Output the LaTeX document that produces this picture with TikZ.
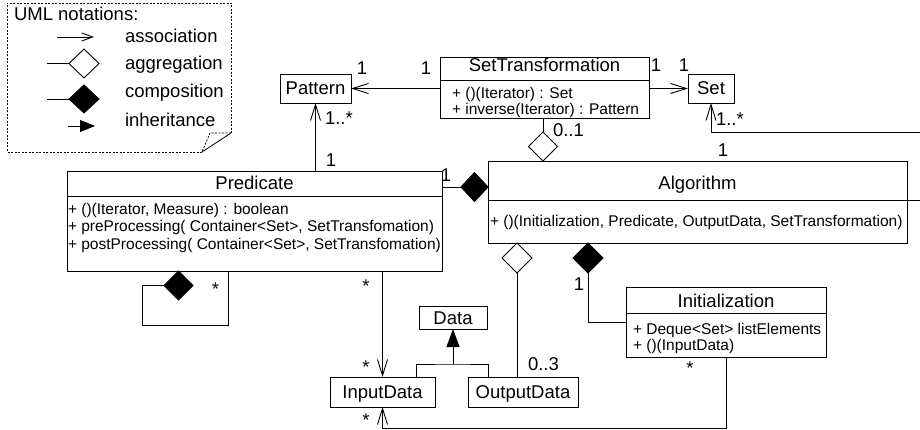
\documentclass[tikz,border=0pt]{standalone}
\usepackage{fontspec}
\setmainfont{Liberation Sans}
\usetikzlibrary{arrows.meta,shapes.geometric}
\begin{document}
\begin{tikzpicture}[x=1pt,y=-1pt,
  every node/.style={inner sep=0pt, outer sep=0pt},
  line width=0.9pt,
  cls/.style={draw, rectangle, line width=0.9pt},
  big/.style={font=\fontsize{18.5}{22}\selectfont},
  small/.style={font=\fontsize{15.5}{17}\selectfont},
  boxtxt/.style={big, text height=13pt, text depth=0pt},
  mth/.style={small, anchor=base west},
  ttl/.style={big, anchor=base},
  mult/.style={big, anchor=base},
  multw/.style={big, anchor=base west},
  assoc/.style={-{Straight Barb[length=16pt,width=10pt]}},
  inh/.style={-{Triangle[length=18pt,width=13pt]}},
  comp/.style={draw, diamond, fill=black, inner sep=0pt},
  aggr/.style={draw, diamond, fill=white, inner sep=0pt},
  note/.style={dash pattern=on 2pt off 1.5pt, line width=0.8pt}
]
\useasboundingbox (0,0) rectangle (920,430);
\clip (0,0) rectangle (920,430);

% ---------- legend ----------
\draw[note] (202,152) -- (7,152) -- (7,3) -- (231,3) -- (231,133);
\draw[line width=0.8pt] (202,152) -- (231,133);
\draw[note] (231,133) -- (210,133) -- (202,152);
\node[big, anchor=base west] (lgt) at (14,21) {UML notations:};
\node[big, anchor=base west] (la) at (125,43) {association};
\node[big, anchor=base west] (lg) at (125,70) {aggregation};
\node[big, anchor=base west] (lc) at (125,98) {composition};
\node[big, anchor=base west] (li) at (125,127) {inheritance};
\coordinate (la1) at (57,37);
\coordinate (la2) at (94,37);
\draw[-{Straight Barb[length=11pt,width=8pt]}] (la1) -- (la2);
\node[aggr, minimum width=30pt, minimum height=29pt] (lgd) at (84,63.5) {};
\coordinate (lg1) at (47,63.5);
\draw (lg1) -- (lgd.west);
\node[comp, minimum width=30pt, minimum height=28pt] (lcd) at (84,99) {};
\coordinate (lc1) at (47,99);
\draw (lc1) -- (lcd.west);
\coordinate (li1) at (68,126);
\coordinate (li2) at (95,126);
\draw[-{Triangle[length=15pt,width=12pt]}] (li1) -- (li2);

% ---------- classes ----------
\node[cls, boxtxt, minimum width=71pt, minimum height=29pt] (pattern) at (315.5,88.5) {Pattern};
\node[cls, boxtxt, minimum width=46pt, minimum height=29pt] (set) at (711,88.5) {Set};

\node[cls, minimum width=209pt, minimum height=61pt] (settr) at (544.5,87.5) {};
\node[ttl] (settrT) at ([yshift=-15pt]settr.north) {SetTransformation};
\draw ([yshift=-23pt]settr.north west) -- ([yshift=-23pt]settr.north east);
\node[mth] (settrM1) at (452,99) {+ ()(Iterator) : Set};
\node[mth] (settrM2) at (452,115) {+ inverse(Iterator) : Pattern};

\node[cls, minimum width=375pt, minimum height=100pt] (pred) at (254.5,221) {};
\node[ttl] (predT) at ([yshift=-19pt]pred.north) {Predicate};
\draw ([yshift=-25pt]pred.north west) -- ([yshift=-25pt]pred.north east);
\node[mth] (predM1) at (68,215) {+ ()(Iterator, Measure) : boolean};
\node[mth] (predM2) at (68,232) {+ preProcessing( Container<Set>, SetTransfomation)};
\node[mth] (predM3) at (68,249) {+ postProcessing( Container<Set>, SetTransfomation)};

\node[cls, minimum width=419pt, minimum height=82pt] (algo) at (697.5,202) {};
\node[ttl] (algoT) at ([yshift=-29pt]algo.north) {Algorithm};
\draw ([yshift=-39pt]algo.north west) -- ([yshift=-39pt]algo.north east);
\node[mth] (algoM1) at (490,226) {+ ()(Initialization, Predicate, OutputData, SetTransformation)};

\node[cls, minimum width=200pt, minimum height=70pt] (init) at (726,322) {};
\node[ttl] (initT) at ([yshift=-20pt]init.north) {Initialization};
\draw ([yshift=-26pt]init.north west) -- ([yshift=-26pt]init.north east);
\node[mth] (initM1) at (633,334) {+ Deque<Set> listElements};
\node[mth] (initM2) at (633,350) {+ ()(InputData)};

\node[cls, boxtxt, minimum width=68pt, minimum height=23pt] (data) at (453,317.5) {Data};
\node[cls, boxtxt, minimum width=105pt, minimum height=30pt] (input) at (382.5,392) {InputData};
\node[cls, boxtxt, minimum width=110pt, minimum height=30pt] (output) at (523,392) {OutputData};

% ---------- connectors ----------
\draw[assoc] (pattern.east -| settr.west) -- (pattern.east);
\node[mult] (m1) at (362,75) {1};
\node[mult] (m2) at (426,75) {1};

\draw[assoc] (set.west -| settr.east) -- (set.west);
\node[mult] (m3) at (656,72) {1};
\node[mult] (m4) at (684,72) {1};

\draw[assoc] (pattern.south |- pred.north) -- (pattern.south);
\node[multw] (m5) at (325,125) {1..*};
\node[mult] (m6) at (331,167) {1};

\coordinate (ext) at (930,132);
\draw[assoc] ([yshift=2pt]algo.east) -| (ext) -| (set.south);
\node[multw] (m7) at (716,126) {1..*};
\node[mult] (m8) at (723,157) {1};

\node[comp, minimum width=27pt, minimum height=29pt] (dPA) at (474.5,187) {};
\draw (dPA.west -| pred.east) -- (dPA.west);
\node[mult] (m9) at (446,182) {1};

\node[aggr, minimum width=29pt, minimum height=29pt] (dSA) at (543,146.5) {};
\draw (dSA.north) -- (dSA.north |- settr.south);
\node[multw] (m10) at (553,137) {0..1};

\node[comp, minimum width=29pt, minimum height=29pt] (dPP) at (178.5,285.5) {};
\coordinate (pp1) at (142,325);
\coordinate (pp2) at (228,325);
\draw (dPP.west) -| (pp1) -- (pp2) -- (pp2 |- pred.south);
\node[mult] (m11) at (215.5,295) {*};

\draw[assoc] (input.north |- pred.south) -- (input.north);
\node[mult] (m12) at (366,292) {*};
\node[mult] (m13) at (366,373) {*};

\draw[assoc] (init.south) -- ++(0,71) -| (input.south);
\node[mult] (m14) at (690,374) {*};
\node[mult] (m15) at (366,426) {*};

\node[aggr, minimum width=30pt, minimum height=30pt] (dAO) at (517,258) {};
\draw (dAO.south) -- (dAO.south |- output.north);
\node[multw] (m16) at (528,370) {0..3};

\node[comp, minimum width=30pt, minimum height=30pt] (dAI) at (588,258) {};
\draw (dAI.south) |- (init.west);
\node[mult] (m17) at (579,290) {1};

\coordinate (jn) at (453,364);
\coordinate (iL) at (416,377);
\coordinate (iR) at (488,377);
\draw (iL) |- (jn) -| (iR);
\draw[inh] (jn) -- (data.south);
\end{tikzpicture}
\end{document}
